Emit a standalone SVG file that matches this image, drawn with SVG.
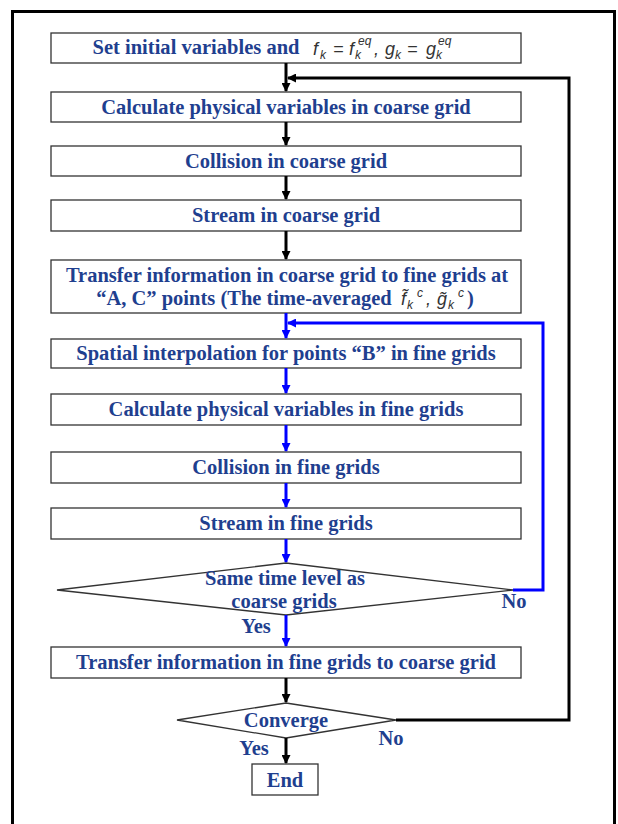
<svg xmlns="http://www.w3.org/2000/svg" width="618" height="824" viewBox="0 0 618 824">
<style>
.box{fill:#fff;stroke:#333;stroke-width:1.3}
.t{font-family:"Liberation Serif",serif;font-weight:bold;font-size:20.5px;fill:#1f3f8f;text-anchor:middle}
.m{font-family:"Liberation Sans",sans-serif;font-style:italic;font-size:18px;fill:#333}
.ms{font-size:12px}
.k{stroke:#000;stroke-width:3;fill:none}
.b{stroke:#0000ff;stroke-width:3;fill:none}
</style>
<defs>
<marker id="ak" markerWidth="9" markerHeight="9" refX="8" refY="4.5" orient="auto" markerUnits="userSpaceOnUse" viewBox="0 0 9 9"><path d="M0,0 L9,4.5 L0,9 z" fill="#000"/></marker>
<marker id="ab" markerWidth="9" markerHeight="9" refX="8" refY="4.5" orient="auto" markerUnits="userSpaceOnUse" viewBox="0 0 9 9"><path d="M0,0 L9,4.5 L0,9 z" fill="#0000ff"/></marker>
</defs>
<rect width="618" height="824" fill="#fff"/>
<path d="M12.5,830 V11.5 H614.5 V830" fill="none" stroke="#000" stroke-width="3"/>

<g id="n1"><rect class="box" x="51" y="33" width="470" height="30"/>
<text class="t" x="196" y="54" textLength="207">Set initial variables and</text>
<text class="m" y="55"><tspan x="313">f</tspan><tspan class="ms" x="320" y="59">k</tspan><tspan x="333" y="55">=</tspan><tspan x="349">f</tspan><tspan class="ms" x="355" y="59">k</tspan><tspan class="ms" x="358" y="45">eq</tspan><tspan x="374" y="55">,</tspan><tspan x="385">g</tspan><tspan class="ms" x="395" y="59">k</tspan><tspan x="407" y="55">=</tspan><tspan x="426">g</tspan><tspan class="ms" x="436" y="59">k</tspan><tspan class="ms" x="438" y="45">eq</tspan></text></g>
<g id="n2"><rect class="box" x="51" y="92" width="470" height="30"/><text class="t" x="286" y="114">Calculate physical variables in coarse grid</text></g>
<g id="n3"><rect class="box" x="51" y="146" width="470" height="30"/><text class="t" x="286" y="168">Collision in coarse grid</text></g>
<g id="n4"><rect class="box" x="51" y="200" width="470" height="31"/><text class="t" x="286" y="222">Stream in coarse grid</text></g>
<g id="n5"><rect class="box" x="51" y="260" width="470" height="53"/>
<text class="t" x="287" y="282">Transfer information in coarse grid to fine grids at</text>
<text class="t" x="244" y="305">“A, C” points (The time-averaged</text>
<text class="m" y="305"><tspan x="401">f̃</tspan><tspan class="ms" x="407" y="309">k</tspan><tspan class="ms" x="417" y="297">c</tspan><tspan x="426" y="305">,</tspan><tspan x="437">g̃</tspan><tspan class="ms" x="448" y="309">k</tspan><tspan class="ms" x="458" y="297">c</tspan></text>
<text class="t" x="467" y="305" style="text-anchor:start">)</text></g>
<g id="n6"><rect class="box" x="51" y="339" width="470" height="29"/><text class="t" x="286" y="360">Spatial interpolation for points “B” in fine grids</text></g>
<g id="n7"><rect class="box" x="51" y="394" width="470" height="31"/><text class="t" x="286" y="416">Calculate physical variables in fine grids</text></g>
<g id="n8"><rect class="box" x="51" y="452" width="470" height="31"/><text class="t" x="286" y="474">Collision in fine grids</text></g>
<g id="n9"><rect class="box" x="51" y="508" width="470" height="31"/><text class="t" x="286" y="530">Stream in fine grids</text></g>
<g id="d1"><path class="box" d="M286,563 L513,590 L286,615 L57,590 Z"/>
<text class="t" x="285" y="585">Same time level as</text><text class="t" x="284" y="608">coarse grids</text></g>
<g id="n10"><rect class="box" x="51" y="647" width="470" height="31"/><text class="t" x="286" y="669">Transfer information in fine grids to coarse grid</text></g>
<g id="d2"><path class="box" d="M286,703 L396,720 L286,738 L177,720 Z"/><text class="t" x="286" y="727">Converge</text></g>
<g id="end"><rect class="box" x="252" y="764" width="66" height="31"/><text class="t" x="285" y="787">End</text></g>

<g id="labels">
<text class="t" x="256" y="633">Yes</text>
<text class="t" x="514" y="608">No</text>
<text class="t" x="254" y="755">Yes</text>
<text class="t" x="391" y="745">No</text>
</g>

<g id="connectors">
<path class="k" d="M286,63 V91" marker-end="url(#ak)"/>
<path class="k" d="M286,122 V145" marker-end="url(#ak)"/>
<path class="k" d="M286,176 V199" marker-end="url(#ak)"/>
<path class="k" d="M286,231 V259" marker-end="url(#ak)"/>
<path class="k" d="M286,678 V702" marker-end="url(#ak)"/>
<path class="k" d="M286,738 V763" marker-end="url(#ak)"/>
<path class="k" d="M396,720 H569 V78 H288" marker-end="url(#ak)"/>
<path class="b" d="M286,313 V338" marker-end="url(#ab)"/>
<path class="b" d="M286,368 V393" marker-end="url(#ab)"/>
<path class="b" d="M286,425 V451" marker-end="url(#ab)"/>
<path class="b" d="M286,483 V507" marker-end="url(#ab)"/>
<path class="b" d="M286,539 V562" marker-end="url(#ab)"/>
<path class="b" d="M286,615 V646" marker-end="url(#ab)"/>
<path class="b" d="M513,590 H543 V323 H288" marker-end="url(#ab)"/>
</g>
</svg>
